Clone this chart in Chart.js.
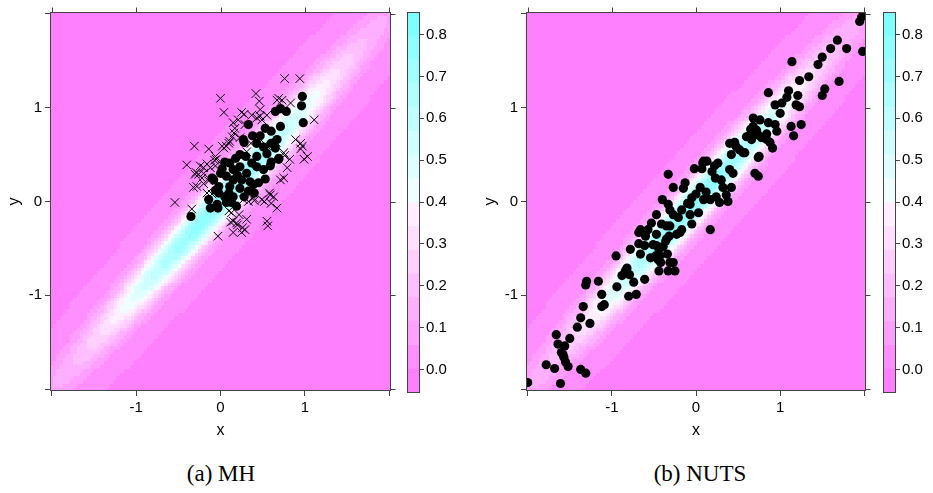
<!DOCTYPE html>
<html><head><meta charset="utf-8">
<script src="https://cdn.jsdelivr.net/npm/chart.js@4.4.1/dist/chart.umd.min.js"></script>
<style>
html,body{margin:0;padding:0;background:#fff;}
#wrap{position:relative;width:933px;height:493px;overflow:hidden;background:#fff;}
canvas{position:absolute;top:0;}
.cap{position:absolute;top:461px;width:240px;height:26px;line-height:26px;text-align:center;font-family:'Liberation Serif','DejaVu Serif',serif;font-size:23px;color:#000;}
</style></head><body>
<div id="wrap">
<canvas id="cA" width="400" height="445" style="left:0px;width:400px;height:445px"></canvas>
<canvas id="kA" width="56" height="420" style="left:400px;width:56px;height:420px"></canvas>
<canvas id="cB" width="400" height="445" style="left:476px;width:400px;height:445px"></canvas>
<canvas id="kB" width="56" height="420" style="left:876px;width:56px;height:420px"></canvas>
<div class="cap" style="left:101px">(a) MH</div>
<div class="cap" style="left:580px">(b) NUTS</div>
</div>
<script>
// ---------------- data ----------------
const X_TICKS = [-2, -1, 0, 1, 2];
const X_TICK_LABELS = ['', '-1', '0', '1', ''];
const Y_TICKS = [-2, -1, 0, 1, 2];
const Y_TICK_LABELS = ['', '-1', '0', '1', ''];
const KEY_TICKS = [0.0, 0.1, 0.2, 0.3, 0.4, 0.5, 0.6, 0.7, 0.8];
const KEY_TICK_LABELS = ['0.0', '0.1', '0.2', '0.3', '0.4', '0.5', '0.6', '0.7', '0.8'];
const AXIS_RANGE = [-2.02, 2.02];
const KEY_RANGE = [-0.056, 0.854];
const N_LEVELS = 16;
// target density: standard bivariate normal with correlation RHO, evaluated on a grid
const RHO = 0.98;
const GRID_FROM = -2, GRID_TO = 2, GRID_N = 101;

// MH: accepted samples (filled circles)
const mhAccepted = [
[-0.35,-0.16],[0.97,1.12],[0.96,1.02],[0.98,0.84],[0.65,0.96],[0.71,0.99],[0.78,0.96],[0.33,0.82],
[0.71,0.80],[0.60,0.75],[0.27,0.66],[0.28,0.63],[0.43,0.62],[0.51,0.58],[0.60,0.62],[0.67,0.66],
[0.55,0.51],[0.69,0.45],[0.43,0.48],[0.37,0.41],[0.23,0.50],[0.11,0.41],[0.15,0.34],[0.23,0.37],
[0.31,0.30],[0.43,0.37],[0.51,0.34],[0.59,0.38],[0.53,0.24],[0.00,0.30],[0.07,0.27],[0.15,0.23],
[0.25,0.23],[0.35,0.21],[0.45,0.20],[-0.08,0.23],[-0.02,0.16],[0.11,0.16],[0.23,0.14],[0.33,0.11],
[-0.02,0.09],[0.05,0.05],[0.15,0.05],[-0.14,0.02],[-0.12,-0.07],[-0.04,-0.03],[0.07,-0.01],[0.19,-0.05],
[0.13,-0.01],[0.39,0.18],[-0.10,0.25],[0.05,0.42],[0.18,0.46],[0.30,0.48],[0.47,0.70],[0.38,0.70],
[0.53,0.78],[0.60,0.42],[0.65,0.57],[0.20,0.28],[0.28,0.05],[0.40,0.09],[-0.06,0.12],[0.02,0.35],
[0.10,0.09],[0.69,0.46],[-0.03,-0.07]
];
// MH: rejected proposals (crosses)
const mhRejected = [
[0.76,1.31],[0.94,1.31],[0.00,1.10],[0.42,1.15],[0.46,1.07],[0.04,0.95],[0.25,0.95],[0.21,0.87],
[0.15,0.84],[0.17,0.78],[0.37,0.92],[0.47,0.91],[0.55,0.92],[0.49,0.87],[0.67,1.08],[0.73,1.08],
[0.69,1.10],[0.83,1.05],[1.11,0.87],[-0.31,0.59],[-0.14,0.56],[-0.30,0.29],[-0.24,0.38],[-0.28,0.16],
[-0.54,-0.01],[-0.34,-0.08],[-0.03,-0.37],[-0.06,0.48],[0.02,0.59],[0.07,0.59],[0.11,0.64],[0.23,0.68],
[0.31,0.53],[-0.06,0.38],[-0.20,0.30],[-0.14,0.22],[-0.16,0.09],[0.13,-0.12],[0.10,-0.10],[0.15,-0.21],
[0.19,-0.23],[0.15,-0.33],[0.29,-0.30],[0.25,-0.33],[0.31,-0.19],[0.27,0.02],[0.33,0.00],[0.39,0.04],
[0.49,0.02],[0.55,-0.21],[0.56,-0.26],[0.67,-0.07],[0.59,0.07],[0.58,0.09],[0.71,0.23],[0.79,0.36],
[0.75,0.52],[0.76,0.49],[0.89,0.66],[0.97,0.59],[0.95,0.62],[0.99,0.45],[1.03,0.48],[0.55,0.59],
[-0.40,0.39],[-0.26,0.29],[-0.29,0.31],[-0.32,0.15],[-0.20,0.36],[-0.12,0.36],[-0.05,0.45],[0.04,0.57],
[0.10,0.62],[0.14,0.69],[0.28,0.93],[0.43,0.89],[0.29,0.82],[0.47,0.98],[0.75,0.25],[0.63,0.05],
[0.60,-0.02],[0.52,0.00],[0.40,0.01],[0.22,-0.14],[0.20,-0.25],[0.26,-0.28],[0.12,-0.22],[-0.10,0.08],
[-0.20,0.19],[-0.22,0.25],[0.53,0.61],[0.82,0.45],[0.95,0.56],[0.66,0.63],[0.36,0.62],[0.16,0.73],
[-0.07,0.44],[-0.16,0.40]
];
// NUTS samples (filled circles)
const nutsSamples = [
[-2.00,-1.93],[-1.61,-1.94],[-1.78,-1.74],[-1.68,-1.78],[-1.52,-1.76],[-1.37,-1.79],[-1.31,-1.83],
[-1.66,-1.42],[-1.64,-1.52],[-1.50,-1.46],[-1.56,-1.54],[-1.60,-1.61],[-1.57,-1.66],[-1.55,-1.71],[-1.58,-1.63],
[-1.41,-1.34],[-1.26,-1.30],[-1.37,-1.24],[-1.34,-1.12],[-1.12,-1.12],[-1.12,-0.99],[-1.09,-1.10],
[-1.30,-0.85],[-1.31,-0.89],[-1.16,-0.85],[-0.95,-0.58],[-0.94,-0.91],[-0.80,-1.01],[-0.71,-0.99],
[-0.84,-0.74],[-0.79,-0.78],[-0.74,-0.86],[-0.61,-0.83],[-0.88,-0.79],[-0.82,-0.71],[-0.78,-0.51],[-0.66,-0.56],
[-0.68,-0.45],[-0.60,-0.33],[-0.68,-0.33],[-0.54,-0.60],[-0.44,-0.74],[-0.33,-0.74],[-0.25,-0.74],[-0.44,-0.51],
[-0.34,-0.56],[-0.36,-0.42],[-0.32,-0.37],[-0.48,-0.58],[-0.42,-0.65],[-0.27,-0.65],[-0.31,-0.65],
[-0.33,0.29],[-0.27,0.15],[-0.13,0.20],[-0.15,0.14],[-0.02,0.35],[0.09,0.43],[0.13,0.43],[0.07,0.35],
[0.26,0.41],[0.19,0.32],[0.23,0.25],[0.30,0.23],[0.40,0.34],[0.44,0.30],[0.46,0.61],[0.52,0.55],
[0.58,0.52],[0.66,0.66],[0.74,0.71],[0.75,0.48],[0.70,0.30],[0.74,0.27],[0.84,0.66],[0.32,0.15],
[0.36,0.07],[0.42,0.15],[0.28,-0.01],[0.38,0.00],[0.17,0.02],[0.09,0.02],[0.05,0.15],[-0.05,0.04],
[-0.07,-0.03],[0.03,-0.12],[-0.07,-0.14],[-0.05,-0.24],[-0.17,-0.09],[-0.21,-0.17],[-0.27,-0.14],[-0.31,-0.09],
[-0.40,0.02],[-0.33,-0.03],[-0.47,-0.14],[-0.53,-0.23],[-0.41,-0.24],[-0.31,-0.26],[-0.35,-0.26],[-0.17,-0.30],
[-0.19,-0.33],[-0.23,-0.35],[0.17,-0.30],[-0.57,-0.30],[-0.66,-0.30],[-0.60,-0.37],[-0.47,-0.35],[-0.35,-0.40],
[-0.51,-0.46],[-0.39,-0.48],[-0.45,-0.62],[-0.43,-0.58],[-0.61,-0.47],[-0.47,-0.47],[0.40,0.62],[0.60,0.69],
[-0.10,-0.02],[0.00,0.08],[0.12,0.10],[0.24,0.05],[0.22,0.38],
[1.945,1.92],[1.97,1.97],[1.98,1.60],[1.68,1.72],[1.79,1.63],[1.60,1.63],[1.50,1.54],[1.45,1.46],
[1.14,1.49],[1.34,1.33],[1.23,1.29],[1.70,1.28],[1.53,1.20],[1.50,1.13],[0.86,1.16],[1.10,1.18],
[1.08,1.11],[1.21,1.13],[1.19,1.03],[0.94,1.03],[1.02,1.05],[1.00,0.94],[1.23,1.01],[1.13,0.80],
[1.25,0.82],[1.16,0.70],[0.68,0.89],[0.76,0.87],[0.86,0.84],[0.94,0.82],[0.96,0.75],[0.68,0.80],
[0.72,0.76],[0.70,0.72],[0.84,0.72],[0.78,0.68],[0.88,0.63],[0.91,0.57],[0.74,0.47],[0.46,0.63],
[0.48,0.58],[0.56,0.52],[0.42,0.50],[0.08,0.41],[0.65,0.77],[0.63,0.70]
];

// ---------------- helpers ----------------
const FRAME = '#444';
const TICK_FONT = {family: "'Liberation Sans', Arial, sans-serif", size: 15};
const TITLE_FONT = {family: "'Liberation Sans', Arial, sans-serif", size: 16};

function density(x, y) {
  const q = 1 - RHO * RHO;
  return Math.exp(-(x * x - 2 * RHO * x * y + y * y) / (2 * q)) / (2 * Math.PI * Math.sqrt(q));
}
// cm.colors(N) reversed: magenta (low) -> white -> cyan (high)
function levelColors(n) {
  const k = n / 2, cols = [];
  for (let i = 0; i < k; i++) {
    const s = 0.5 - i * (0.5 - 0.5 / k) / (k - 1);
    cols.push(`rgb(255,${Math.round(255 * (1 - s))},255)`);
  }
  for (let i = 0; i < k; i++) {
    const s = 0.5 / k + i * (0.5 - 0.5 / k) / (k - 1);
    cols.push(`rgb(${Math.round(255 * (1 - s))},255,255)`);
  }
  return cols;
}
const LEVEL_COLORS = levelColors(N_LEVELS);
const LEVEL_W = (KEY_RANGE[1] - KEY_RANGE[0]) / N_LEVELS;
function levelOf(v) {
  return Math.max(0, Math.min(N_LEVELS - 1, Math.floor((v - KEY_RANGE[0]) / LEVEL_W)));
}
const GRID = [];
for (let i = 0; i < GRID_N; i++) GRID.push(GRID_FROM + i * (GRID_TO - GRID_FROM) / (GRID_N - 1));
const GRID_STEP = (GRID_TO - GRID_FROM) / (GRID_N - 1);

const heatmapPlugin = {
  id: 'heatmap',
  beforeDatasetsDraw(chart) {
    const {ctx, chartArea: a, scales: {x, y}} = chart;
    ctx.save();
    ctx.beginPath(); ctx.rect(a.left, a.top, a.right - a.left, a.bottom - a.top); ctx.clip();
    const h = GRID_STEP / 2;
    for (const gx of GRID) {
      const x0 = Math.floor(x.getPixelForValue(gx - h)), x1 = Math.ceil(x.getPixelForValue(gx + h));
      for (const gy of GRID) {
        const y0 = Math.floor(y.getPixelForValue(gy + h)), y1 = Math.ceil(y.getPixelForValue(gy - h));
        ctx.fillStyle = LEVEL_COLORS[levelOf(density(gx, gy))];
        ctx.fillRect(x0, y0, x1 - x0, y1 - y0);
      }
    }
    ctx.restore();
  }
};

const framePlugin = {
  id: 'frame',
  afterDraw(chart, args, opts) {
    const {ctx, chartArea: a, scales} = chart;
    ctx.save();
    ctx.strokeStyle = FRAME; ctx.lineWidth = 1;
    const L = Math.round(a.left) + 0.5, R = Math.round(a.right) - 0.5;
    const T = Math.round(a.top) + 0.5, B = Math.round(a.bottom) - 0.5;
    ctx.strokeRect(L, T, R - L, B - T);
    if (opts && opts.mirror) {
      const tl = 5;
      ctx.beginPath();
      for (const v of X_TICKS) {
        const px = Math.round(scales.x.getPixelForValue(v)) + 0.5;
        ctx.moveTo(px, T); ctx.lineTo(px, T - tl);
      }
      for (const v of Y_TICKS) {
        const py = Math.round(scales.y.getPixelForValue(v)) + 0.5;
        ctx.moveTo(R, py); ctx.lineTo(R + tl, py);
      }
      ctx.stroke();
    }
    ctx.restore();
  }
};

function xAxis() {
  return {
    type: 'linear', min: AXIS_RANGE[0], max: AXIS_RANGE[1],
    afterBuildTicks: s => { s.ticks = X_TICKS.map(v => ({value: v})); },
    ticks: {callback: (v) => X_TICK_LABELS[X_TICKS.indexOf(v)] ?? '', font: TICK_FONT, color: '#000',
            padding: 3, maxRotation: 0, autoSkip: false},
    grid: {drawOnChartArea: false, drawTicks: true, tickLength: 5, color: FRAME},
    border: {display: false},
    title: {display: true, text: 'x', font: TITLE_FONT, color: '#000', padding: {top: 0, bottom: 5}},
    afterFit: s => { s.height = 54; }
  };
}
function yAxis() {
  return {
    type: 'linear', min: AXIS_RANGE[0], max: AXIS_RANGE[1],
    afterBuildTicks: s => { s.ticks = Y_TICKS.map(v => ({value: v})); },
    ticks: {callback: (v) => Y_TICK_LABELS[Y_TICKS.indexOf(v)] ?? '', font: TICK_FONT, color: '#000',
            padding: 3, autoSkip: false},
    grid: {drawOnChartArea: false, drawTicks: true, tickLength: 5, color: FRAME},
    border: {display: false},
    title: {display: true, text: 'y', font: TITLE_FONT, color: '#000', padding: {top: 4.5, bottom: 0}},
    afterFit: s => { s.width = 50; }
  };
}
function circles(points) {
  return {data: points.map(([x, y]) => ({x, y})), pointStyle: 'circle', pointRadius: 4.6,
          pointHoverRadius: 4.6, backgroundColor: '#000', borderColor: '#000', borderWidth: 0, clip: 0};
}
function crosses(points) {
  return {data: points.map(([x, y]) => ({x, y})), pointStyle: 'crossRot', pointRadius: 6,
          pointHoverRadius: 6, backgroundColor: '#000', borderColor: '#000', borderWidth: 1, clip: 0};
}
function panel(id, datasets, rightPad) {
  return new Chart(document.getElementById(id), {
    type: 'scatter',
    data: {datasets},
    options: {
      responsive: false, animation: false, devicePixelRatio: 1,
      layout: {padding: {left: 0, top: 12, right: rightPad, bottom: 0}},
      plugins: {legend: {display: false}, tooltip: {enabled: false}, frame: {mirror: true}},
      scales: {x: xAxis(), y: yAxis()}
    },
    plugins: [heatmapPlugin, framePlugin]
  });
}
function colorKey(id) {
  const datasets = LEVEL_COLORS.map((c, i) => ({
    data: [[KEY_RANGE[0] + i * LEVEL_W, KEY_RANGE[0] + (i + 1) * LEVEL_W]],
    backgroundColor: c, borderWidth: 0, barPercentage: 1, categoryPercentage: 1, grouped: false
  }));
  return new Chart(document.getElementById(id), {
    type: 'bar',
    data: {labels: [''], datasets},
    options: {
      responsive: false, animation: false, devicePixelRatio: 1,
      layout: {padding: {left: 7, top: 12, right: 0, bottom: 27}},
      plugins: {legend: {display: false}, tooltip: {enabled: false}, frame: {mirror: false}},
      scales: {
        x: {display: false},
        y: {
          position: 'right', min: KEY_RANGE[0], max: KEY_RANGE[1],
          afterBuildTicks: s => { s.ticks = KEY_TICKS.map(v => ({value: v})); },
          ticks: {callback: (v) => KEY_TICK_LABELS[KEY_TICKS.indexOf(v)] ?? '', font: TICK_FONT, color: '#000', padding: 2},
          grid: {drawOnChartArea: false, drawTicks: true, tickLength: 4, color: FRAME},
          border: {display: false},
          afterFit: s => { s.width = 36; }
        }
      }
    },
    plugins: [framePlugin]
  });
}

panel('cA', [circles(mhAccepted), crosses(mhRejected)], 9);
colorKey('kA');
panel('cB', [circles(nutsSamples)], 10);
colorKey('kB');
</script>
</body></html>
